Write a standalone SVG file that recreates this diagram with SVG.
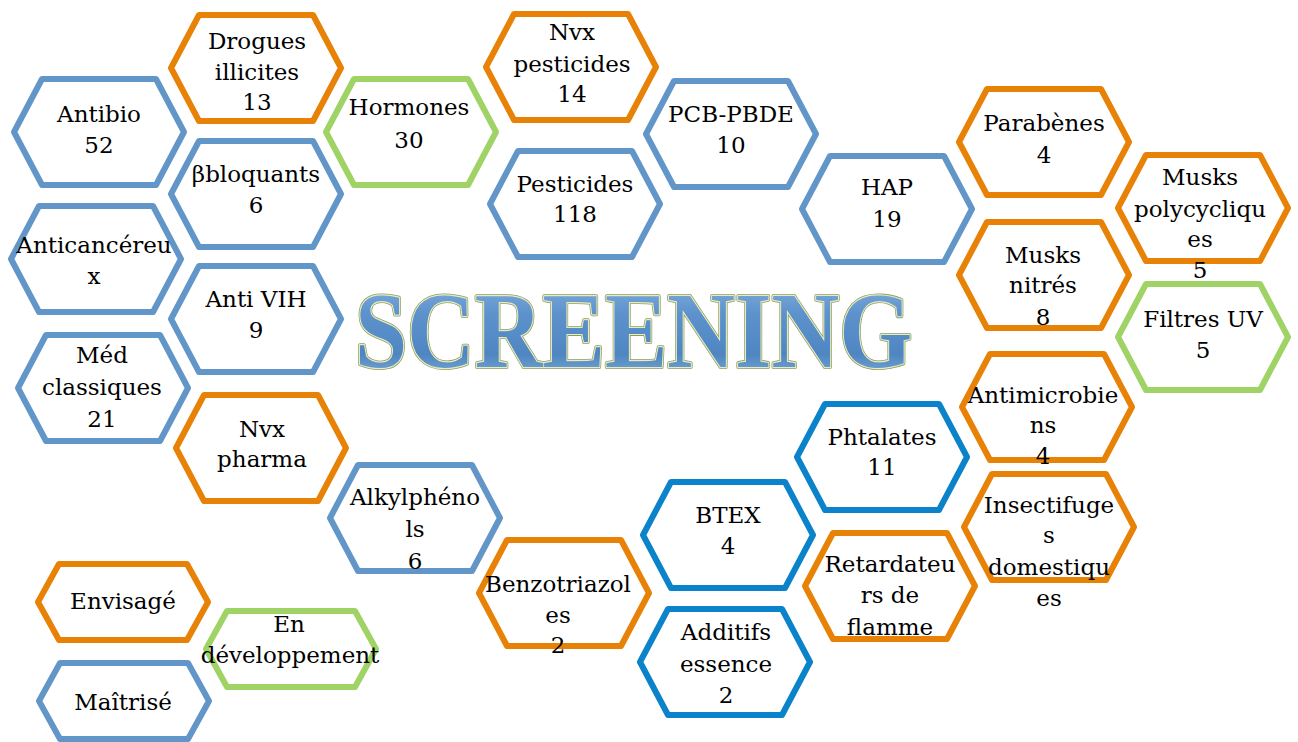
<svg xmlns="http://www.w3.org/2000/svg" xmlns:xlink="http://www.w3.org/1999/xlink" width="1298" height="742" viewBox="0 0 1298 742">
  <defs>
    <!-- standard flat-topped hexagon, centred on 0,0 -->
    <path id="hex" d="M-85,0 L-57,-53 L57,-53 L85,0 L57,53 L-57,53 Z"/>
    <!-- shorter hexagon used by the legend -->
    <path id="hexs" d="M-85,0 L-64,-38 L64,-38 L85,0 L64,38 L-64,38 Z"/>
    <linearGradient id="titleFill" x1="0" y1="0" x2="0" y2="1">
      <stop offset="0" stop-color="#8db6e0"/>
      <stop offset="0.35" stop-color="#5d92cc"/>
      <stop offset="0.7" stop-color="#4f86c2"/>
      <stop offset="1" stop-color="#8fb9df"/>
    </linearGradient>
  </defs>
  <style>
    .hx { fill: #ffffff; stroke-width: 6; stroke-linejoin: round; }
    .blue { stroke: #6396c8; }
    .orange { stroke: #e88206; }
    .green { stroke: #a0d365; }
    .dblue { stroke: #0a83ca; }
    .lbl { font-family: "DejaVu Serif", "Liberation Serif", serif; font-size: 23px; fill: #000000; text-anchor: middle; }
    .title { font-family: "Liberation Serif", "DejaVu Serif", serif; font-weight: bold; font-size: 107px; }
  </style>
  <rect width="1298" height="742" fill="#ffffff"/>

  <!-- no connectors in this layout -->
  <g id="connectors"/>

  <g id="antibio">
    <use xlink:href="#hex" href="#hex" x="99" y="132" class="hx blue"/>
    <text class="lbl"><tspan x="99" y="122">Antibio</tspan><tspan x="99" y="153">52</tspan></text>
  </g>
  <g id="drogues">
    <use xlink:href="#hex" href="#hex" x="256" y="68" class="hx orange"/>
    <text class="lbl"><tspan x="257" y="49">Drogues</tspan><tspan x="257" y="80">illicites</tspan><tspan x="257" y="110">13</tspan></text>
  </g>
  <g id="hormones">
    <use xlink:href="#hex" href="#hex" x="411" y="132" class="hx green"/>
    <text class="lbl"><tspan x="409" y="115">Hormones</tspan><tspan x="409" y="148">30</tspan></text>
  </g>
  <g id="bbloquants">
    <use xlink:href="#hex" href="#hex" x="256" y="194" class="hx blue"/>
    <text class="lbl"><tspan x="256" y="182">βbloquants</tspan><tspan x="256" y="213">6</tspan></text>
  </g>
  <g id="anticancereux">
    <use xlink:href="#hex" href="#hex" x="96" y="259" class="hx blue"/>
    <text class="lbl"><tspan x="94" y="253">Anticancéreu</tspan><tspan x="94" y="284">x</tspan></text>
  </g>
  <g id="antivih">
    <use xlink:href="#hex" href="#hex" x="256" y="319" class="hx blue"/>
    <text class="lbl"><tspan x="256" y="307">Anti VIH</tspan><tspan x="256" y="338">9</tspan></text>
  </g>
  <g id="medclassiques">
    <use xlink:href="#hex" href="#hex" x="103" y="388" class="hx blue"/>
    <text class="lbl"><tspan x="102" y="363">Méd</tspan><tspan x="102" y="395">classiques</tspan><tspan x="102" y="427">21</tspan></text>
  </g>
  <g id="nvxpharma">
    <use xlink:href="#hex" href="#hex" x="261" y="448" class="hx orange"/>
    <text class="lbl"><tspan x="262" y="437">Nvx</tspan><tspan x="262" y="467">pharma</tspan></text>
  </g>
  <g id="nvxpesticides">
    <use xlink:href="#hex" href="#hex" x="571" y="67" class="hx orange"/>
    <text class="lbl"><tspan x="572" y="40">Nvx</tspan><tspan x="572" y="72">pesticides</tspan><tspan x="572" y="102">14</tspan></text>
  </g>
  <g id="pesticides">
    <use xlink:href="#hex" href="#hex" x="575" y="204" class="hx blue"/>
    <text class="lbl"><tspan x="575" y="192">Pesticides</tspan><tspan x="575" y="222">118</tspan></text>
  </g>
  <g id="pcbpbde">
    <use xlink:href="#hex" href="#hex" x="731" y="134" class="hx blue"/>
    <text class="lbl"><tspan x="731" y="122">PCB-PBDE</tspan><tspan x="731" y="153">10</tspan></text>
  </g>
  <g id="hap">
    <use xlink:href="#hex" href="#hex" x="887" y="209" class="hx blue"/>
    <text class="lbl"><tspan x="887" y="195">HAP</tspan><tspan x="887" y="227">19</tspan></text>
  </g>
  <g id="parabenes">
    <use xlink:href="#hex" href="#hex" x="1044" y="142" class="hx orange"/>
    <text class="lbl"><tspan x="1044" y="131">Parabènes</tspan><tspan x="1044" y="163">4</tspan></text>
  </g>
  <g id="musksnitres">
    <use xlink:href="#hex" href="#hex" x="1044" y="275" class="hx orange"/>
    <text class="lbl"><tspan x="1043" y="263">Musks</tspan><tspan x="1043" y="293">nitrés</tspan><tspan x="1043" y="325">8</tspan></text>
  </g>
  <g id="muskspolycycliques">
    <use xlink:href="#hex" href="#hex" x="1203" y="208" class="hx orange"/>
    <text class="lbl"><tspan x="1200" y="185">Musks</tspan><tspan x="1200" y="217">polycycliqu</tspan><tspan x="1200" y="247">es</tspan><tspan x="1200" y="278">5</tspan></text>
  </g>
  <g id="filtresuv">
    <use xlink:href="#hex" href="#hex" x="1203" y="337" class="hx green"/>
    <text class="lbl"><tspan x="1203" y="327">Filtres UV</tspan><tspan x="1203" y="358">5</tspan></text>
  </g>
  <g id="antimicrobiens">
    <use xlink:href="#hex" href="#hex" x="1047" y="407" class="hx orange"/>
    <text class="lbl"><tspan x="1043" y="403">Antimicrobie</tspan><tspan x="1043" y="433">ns</tspan><tspan x="1043" y="464">4</tspan></text>
  </g>
  <g id="phtalates">
    <use xlink:href="#hex" href="#hex" x="882" y="457" class="hx dblue"/>
    <text class="lbl"><tspan x="882" y="445">Phtalates</tspan><tspan x="882" y="475">11</tspan></text>
  </g>
  <g id="insectifuges">
    <use xlink:href="#hex" href="#hex" x="1049" y="527" class="hx orange"/>
    <text class="lbl"><tspan x="1049" y="513">Insectifuge</tspan><tspan x="1049" y="543">s</tspan><tspan x="1049" y="575">domestiqu</tspan><tspan x="1049" y="606">es</tspan></text>
  </g>
  <g id="retardateurs">
    <use xlink:href="#hex" href="#hex" x="890" y="586" class="hx orange"/>
    <text class="lbl"><tspan x="890" y="572">Retardateu</tspan><tspan x="890" y="603">rs de</tspan><tspan x="890" y="635">flamme</tspan></text>
  </g>
  <g id="alkylphenols">
    <use xlink:href="#hex" href="#hex" x="415" y="518" class="hx blue"/>
    <text class="lbl"><tspan x="415" y="505">Alkylphéno</tspan><tspan x="415" y="537">ls</tspan><tspan x="415" y="569">6</tspan></text>
  </g>
  <g id="benzotriazoles">
    <use xlink:href="#hex" href="#hex" x="564" y="593" class="hx orange"/>
    <text class="lbl"><tspan x="558" y="592">Benzotriazol</tspan><tspan x="558" y="623">es</tspan><tspan x="558" y="653">2</tspan></text>
  </g>
  <g id="btex">
    <use xlink:href="#hex" href="#hex" x="728" y="535" class="hx dblue"/>
    <text class="lbl"><tspan x="728" y="523">BTEX</tspan><tspan x="728" y="554">4</tspan></text>
  </g>
  <g id="additifs">
    <use xlink:href="#hex" href="#hex" x="725" y="662" class="hx dblue"/>
    <text class="lbl"><tspan x="726" y="640">Additifs</tspan><tspan x="726" y="672">essence</tspan><tspan x="726" y="703">2</tspan></text>
  </g>

  <!-- legend -->
  <g id="envisage">
    <use xlink:href="#hexs" href="#hexs" x="123" y="602" class="hx orange"/>
    <text class="lbl" x="123" y="609">Envisagé</text>
  </g>
  <g id="endeveloppement">
    <use xlink:href="#hexs" href="#hexs" x="291" y="649" class="hx green"/>
    <text class="lbl"><tspan x="289" y="632">En</tspan><tspan x="290" y="663">développement</tspan></text>
  </g>
  <g id="maitrise">
    <use xlink:href="#hexs" href="#hexs" x="124" y="701" class="hx blue"/>
    <text class="lbl" x="123" y="710">Maîtrisé</text>
  </g>

  <!-- bevelled title -->
  <g id="title">
    <text class="title" x="355" y="367" textLength="557" lengthAdjust="spacingAndGlyphs" fill="none" stroke="#8c9a62" stroke-width="4" stroke-linejoin="round">SCREENING</text>
    <text class="title" x="355" y="367" textLength="557" lengthAdjust="spacingAndGlyphs" fill="none" stroke="#e4ecc0" stroke-width="2.4" stroke-linejoin="round">SCREENING</text>
    <text class="title" x="355" y="367" textLength="557" lengthAdjust="spacingAndGlyphs" fill="url(#titleFill)">SCREENING</text>
  </g>
</svg>
